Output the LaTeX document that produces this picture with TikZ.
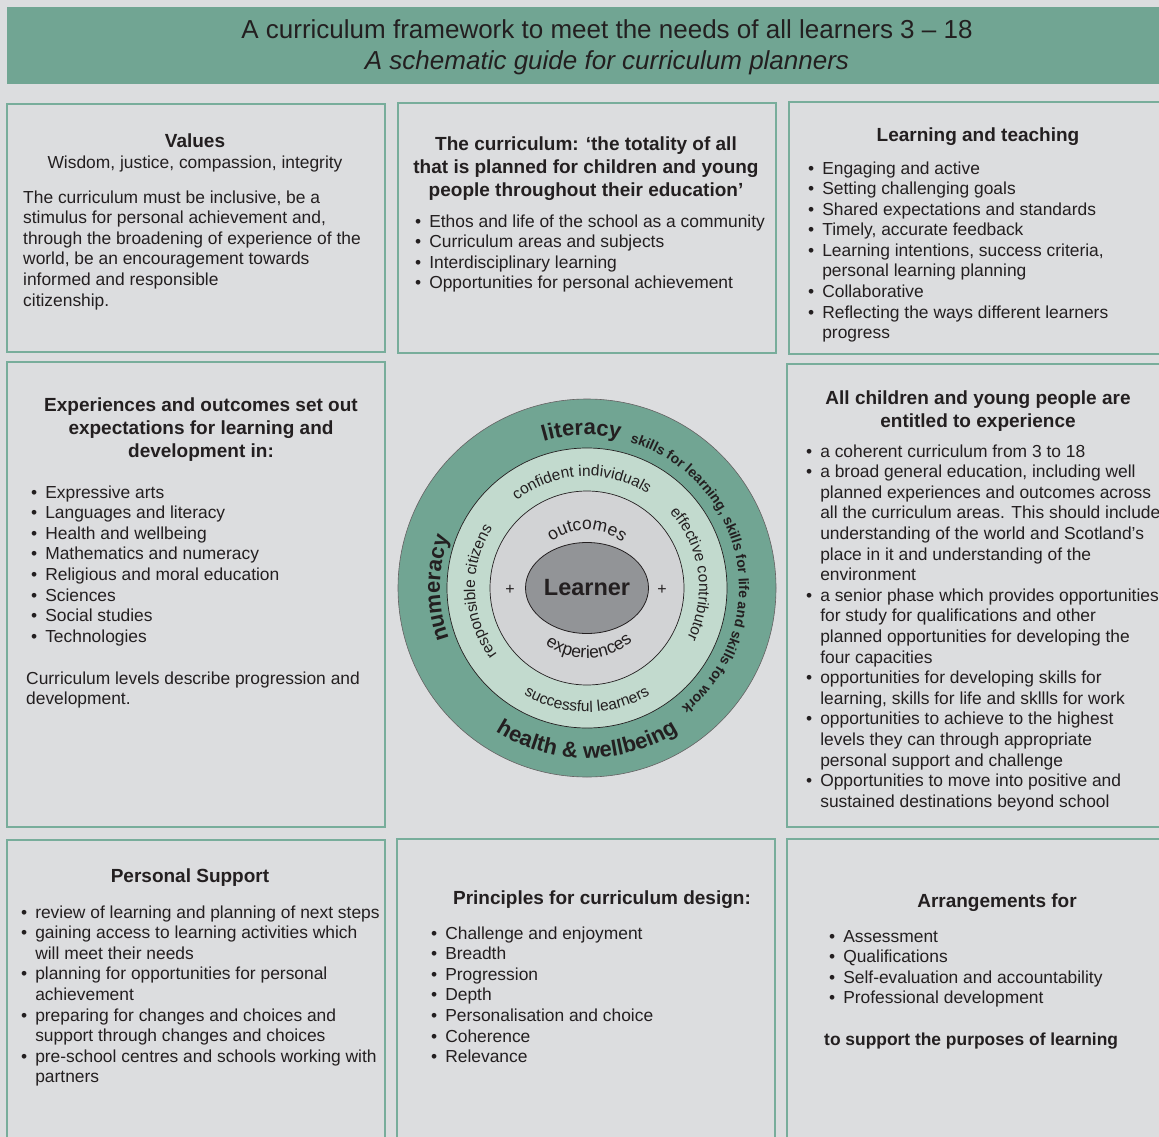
\documentclass[tikz,border=0pt]{standalone}
\usepackage{fontspec}
\setmainfont{Liberation Sans}
\usetikzlibrary{positioning,shapes.geometric,decorations.text}

\definecolor{pagebg}{HTML}{DCDDDF}
\definecolor{teal}{HTML}{71A593}
\definecolor{boxline}{HTML}{78AD9B}
\definecolor{ringlight}{HTML}{C2DACE}
\definecolor{ringgray}{HTML}{D2D3D5}
\definecolor{learnergray}{HTML}{929497}
\definecolor{ink}{HTML}{231F20}

% rows of text, baseline on the first row
\newcommand{\rowsl}[1]{\begin{tabular}[t]{@{}l@{}}#1\end{tabular}}
\newcommand{\rowsc}[1]{\begin{tabular}[t]{@{}c@{}}#1\end{tabular}}
\newcommand{\rowsb}[1]{\begin{tabular}[t]{@{}l@{\hspace{8pt}}l@{}}#1\end{tabular}}
\newcommand{\bu}{\textbullet}

% fonts for the ring texts
\newcommand{\ringbig}{\color{ink}\bfseries\fontsize{22}{22}\selectfont}
\newcommand{\ringskill}{\color{ink}\bfseries\fontsize{14}{14}\selectfont}
\newcommand{\ringmid}{\color{ink}\fontsize{15.5}{16}\selectfont}
\newcommand{\ringin}{\color{ink}\fontsize{17.5}{18}\selectfont}

\begin{document}
\begin{tikzpicture}[x=1pt, y=1pt, >=latex]
	\tikzstyle{panel} = [draw=boxline, line width=1.8pt]
	\tikzstyle{hdr} = [inner sep=0pt, anchor=base, text=ink, font=\fontsize{26}{31}\selectfont]
	\tikzstyle{ttl} = [inner sep=0pt, anchor=base, text=ink, font=\bfseries\fontsize{19}{23}\selectfont]
	\tikzstyle{txt} = [inner sep=0pt, anchor=base west, text=ink, font=\fontsize{17.4}{20.6}\selectfont]
	\tikzstyle{ringtext} = [decorate, decoration={text along path, text align=center}]

	% page and header
	\fill[pagebg] (0,0) rectangle (1159,-1137);
	\clip (0,0) rectangle (1159,-1137);
	\fill[teal] (7,-7) rectangle (1170,-84);
	\node (head1) [hdr] at (607,-39) {A curriculum framework to meet the needs of all learners 3 – 18};
	\node (head2) [hdr, font=\itshape\fontsize{26}{31}\selectfont] at (607,-70) {A schematic guide for curriculum planners};

	% frames
	\foreach \xa/\ya/\xb/\yb in {7/104/385/352, 398/103/776/353, 789/102/1170/354,
		7/362/385/827, 787/364/1170/827,
		7/840/385/1150, 397/839/775/1150, 787/839/1170/1150}
	\draw[panel] (\xa,-\ya) rectangle (\xb,-\yb);

	% values
	\node (valT) [ttl] at (195,-148) {Values};
	\node (valS) [txt, anchor=base] at (195,-168) {Wisdom, justice, compassion, integrity};
	\node (valP) [txt] at (23,-203) {\rowsl{The curriculum must be inclusive, be a\\stimulus for personal achievement and,\\through the broadening of experience of the\\world, be an encouragement towards\\informed and responsible\\citizenship.}};

	% the curriculum
	\node (curT) [ttl] at (586,-150) {\rowsc{The curriculum: ‘the totality of all\\that is planned for children and young\\people throughout their education’}};
	\node (curL) [txt] at (415,-227) {\rowsb{\bu & Ethos and life of the school as a community\\
		\bu & Curriculum areas and subjects\\
		\bu & Interdisciplinary learning\\
		\bu & Opportunities for personal achievement}};

	% learning and teaching
	\node (ltT) [ttl] at (978,-142) {Learning and teaching};
	\node (ltL) [txt] at (808,-174) {\rowsb{\bu & Engaging and active\\
		\bu & Setting challenging goals\\
		\bu & Shared expectations and standards\\
		\bu & Timely, accurate feedback\\
		\bu & Learning intentions, success criteria,\\
		& personal learning planning\\
		\bu & Collaborative\\
		\bu & Reflecting the ways different learners\\
		& progress}};

	% experiences and outcomes
	\node (eoT) [ttl] at (201,-411) {\rowsc{Experiences and outcomes set out\\expectations for learning and\\development in:}};
	\node (eoL) [txt] at (31,-498) {\rowsb{\bu & Expressive arts\\
		\bu & Languages and literacy\\
		\bu & Health and wellbeing\\
		\bu & Mathematics and numeracy\\
		\bu & Religious and moral education\\
		\bu & Sciences\\
		\bu & Social studies\\
		\bu & Technologies}};
	\node (eoP) [txt] at (26,-684) {\rowsl{Curriculum levels describe progression and\\development.}};

	% entitlements
	\node (entT) [ttl] at (978,-404) {\rowsc{All children and young people are\\entitled to experience}};
	\node (entL) [txt] at (806,-457) {\rowsb{\bu & a coherent curriculum from 3 to 18\\
		\bu & a broad general education, including well\\
		& planned experiences and outcomes across\\
		& all the curriculum areas. This should include\\
		& understanding of the world and Scotland’s\\
		& place in it and understanding of the\\
		& environment\\
		\bu & a senior phase which provides opportunities\\
		& for study for qualifications and other\\
		& planned opportunities for developing the\\
		& four capacities\\
		\bu & opportunities for developing skills for\\
		& learning, skills for life and skllls for work\\
		\bu & opportunities to achieve to the highest\\
		& levels they can through appropriate\\
		& personal support and challenge\\
		\bu & Opportunities to move into positive and\\
		& sustained destinations beyond school}};

	% personal support
	\node (psT) [ttl] at (190,-882) {Personal Support};
	\node (psL) [txt] at (21,-918) {\rowsb{\bu & review of learning and planning of next steps\\
		\bu & gaining access to learning activities which\\
		& will meet their needs\\
		\bu & planning for opportunities for personal\\
		& achievement\\
		\bu & preparing for changes and choices and\\
		& support through changes and choices\\
		\bu & pre-school centres and schools working with\\
		& partners}};

	% principles
	\node (prT) [ttl] at (602,-904) {Principles for curriculum design:};
	\node (prL) [txt] at (431,-939) {\rowsb{\bu & Challenge and enjoyment\\
		\bu & Breadth\\
		\bu & Progression\\
		\bu & Depth\\
		\bu & Personalisation and choice\\
		\bu & Coherence\\
		\bu & Relevance}};

	% arrangements
	\node (arT) [ttl] at (997,-907) {Arrangements for};
	\node (arL) [txt] at (829,-942) {\rowsb{\bu & Assessment\\
		\bu & Qualifications\\
		\bu & Self-evaluation and accountability\\
		\bu & Professional development}};
	\node (arS) [txt, font=\bfseries\fontsize{17.4}{20.6}\selectfont] at (824,-1045) {to support the purposes of  learning};

	% the learner wheel
	\begin{scope}[shift={(587,-588)}]
		\filldraw[fill=teal, draw=ink!70, line width=0.6pt] (0,0) circle (189);
		\filldraw[fill=ringlight, draw=ink, line width=0.7pt] (0,0) circle (140);
		\filldraw[fill=ringgray, draw=ink, line width=0.7pt] (0,0) circle (97);
		\node (learner) [ellipse, draw=ink, line width=0.8pt, fill=learnergray, minimum width=123pt, minimum height=91pt, inner sep=0pt, text=ink, font=\bfseries\fontsize{23.5}{24}\selectfont] at (0,0) {Learner};
		\node (plusL) [text=ink, font=\fontsize{16}{16}\selectfont] at (-77,-2) {+};
		\node (plusR) [text=ink, font=\fontsize{16}{16}\selectfont] at (75,-2) {+};
		% outer ring
		\path[ringtext, decoration={text={|\ringbig|literacy}}] (132:153) arc[start angle=132, end angle=52, radius=153];
		\path[ringtext, decoration={text={|\ringbig|numeracy}}] (228:147) arc[start angle=228, end angle=132, radius=147];
		\path[ringtext, decoration={text={|\ringbig|health {\&} wellbeing}}] (210:170) arc[start angle=210, end angle=330, radius=170];
		\path[ringtext, decoration={text={|\ringskill|skills for learning, skills for life and skills for work}}] (84:152) arc[start angle=84, end angle=-62, radius=152];
		% middle ring
		\path[ringtext, decoration={text={|\ringmid|confident individuals}}] (160:112) arc[start angle=160, end angle=26, radius=112];
		\path[ringtext, decoration={text={|\ringmid|effective contributor}}] (77:112) arc[start angle=77, end angle=-61, radius=112];
		\path[ringtext, decoration={text={|\ringmid|responsible citizens}}] (252:112) arc[start angle=252, end angle=112, radius=112];
		\path[ringtext, decoration={text={|\ringmid|successful learners}}] (200:124) arc[start angle=200, end angle=340, radius=124];
		% inner ring
		\path[ringtext, decoration={text={|\ringin|outcomes}}] (152:58) arc[start angle=152, end angle=28, radius=58];
		\path[ringtext, decoration={text={|\ringin|experiences}}] (195:70) arc[start angle=195, end angle=349, radius=70];
	\end{scope}
\end{tikzpicture}
\end{document}
